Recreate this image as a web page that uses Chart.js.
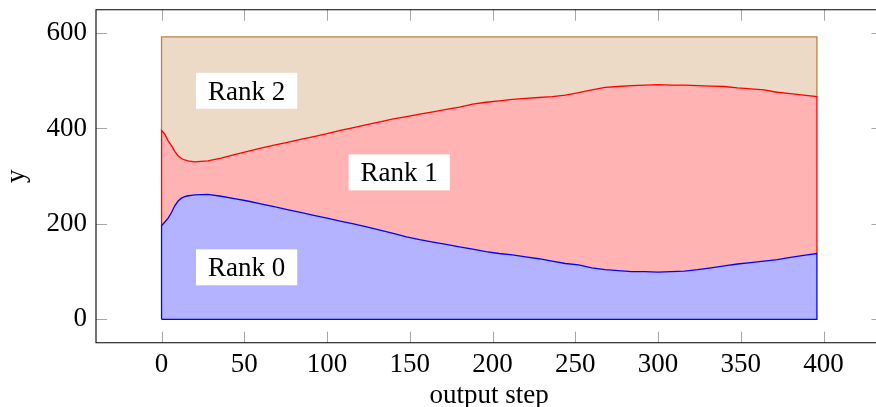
<!DOCTYPE html>
<html>
<head>
<meta charset="utf-8">
<script src="https://cdn.jsdelivr.net/npm/chart.js@4.4.1/dist/chart.umd.min.js"></script>
<style>
  html, body { margin: 0; padding: 0; background: #fff; }
  #wrap { width: 876px; height: 407px; }
</style>
</head>
<body>
<div id="wrap"><canvas id="c" width="876" height="407"></canvas></div>
<script>
// Output steps sampled along the run
const steps = [0,2,4,6,8,10,12,14,16,18,20,28,36,44,52,60,68,76,84,92,100,108,116,124,132,140,148,156,164,172,180,188,196,204,212,220,228,236,244,252,260,268,276,284,292,300,308,316,324,332,340,348,356,364,372,380,388,396];

// Work items held by each rank at every output step
const rank0 = [196,204,212,224,238,248,254,257,259,260,261,262,258,253,248,242,236,230,224,218,212,206,200,194,187,180,173,167,162,157,152,147,142,138,135,131,127,122,117,114,108,104,102,100,100,99,100,101,104,108,112,116,119,122,125,130,134,138];
const rank1 = [200,184,162,140,114,95,83,77,73,71,69,70,80,92,104,117,129,141,153,165,177,190,202,214,227,240,252,263,273,283,293,304,313,320,326,332,338,345,353,361,373,382,386,390,391,393,391,390,386,381,376,369,364,359,351,343,336,329];
const rank2 = [196,204,218,228,240,249,255,258,260,261,262,260,254,247,240,233,227,221,215,209,203,196,190,184,178,172,167,162,157,152,147,141,137,134,131,129,127,125,122,117,111,106,104,102,101,100,101,101,102,103,104,107,109,111,116,119,122,125];

const xTicks = [0,50,100,150,200,250,300,350,400];
const yTicks = [0,200,400,600];

const rankLabels = [
  { text: 'Rank 0', x: 51.4, y: 109 },
  { text: 'Rank 1', x: 143.6, y: 308 },
  { text: 'Rank 2', x: 51.4, y: 479 }
];

const FONT = '"Liberation Serif", "Times New Roman", serif';
const FSIZE = 27;

// stacked totals
const top0 = rank0.slice();
const top1 = rank0.map((v, i) => v + rank1[i]);
const top2 = top1.map((v, i) => v + rank2[i]);

const pts = arr => steps.map((s, i) => ({ x: s, y: arr[i] }));
const first = steps[0], last = steps[steps.length - 1], n = steps.length - 1;

// closed outlines of each stacked band (left edge, upper curve, right edge)
const outline0 = [{x: first, y: 0}, ...pts(top0), {x: last, y: 0}, {x: first, y: 0}];
const outline1 = [{x: first, y: top0[0]}, ...pts(top1), {x: last, y: top0[n]}];
const outline2 = [{x: first, y: top1[0]}, ...pts(top2), {x: last, y: top1[n]}];

const colors = {
  blue: '#0000ff', blueFill: '#b3b3ff',
  red: '#ff0000', redFill: '#ffb3b3',
  brown: '#bf8040', brownFill: '#ecd9c6'
};

const frame = {
  id: 'frame',
  afterDraw(chart) {
    const ctx = chart.ctx, a = chart.chartArea;
    const xs = chart.scales.x, ys = chart.scales.y;
    ctx.save();
    // inward tick marks on all four sides
    ctx.strokeStyle = '#a6a6a6';
    ctx.lineWidth = 1;
    const tl = 11;
    const rightEdge = xs.getPixelForValue(435.6);
    ctx.beginPath();
    xTicks.forEach(v => {
      const p = Math.round(xs.getPixelForValue(v)) + 0.5;
      ctx.moveTo(p, a.bottom); ctx.lineTo(p, a.bottom - tl);
      ctx.moveTo(p, a.top); ctx.lineTo(p, a.top + tl);
    });
    yTicks.forEach(v => {
      const p = Math.round(ys.getPixelForValue(v)) + 0.5;
      ctx.moveTo(a.left, p); ctx.lineTo(a.left + tl, p);
      ctx.moveTo(rightEdge, p); ctx.lineTo(rightEdge - tl, p);
    });
    ctx.stroke();
    // axis box
    ctx.strokeStyle = '#000';
    ctx.lineWidth = 1.1;
    ctx.beginPath();
    ctx.moveTo(rightEdge, a.top); ctx.lineTo(a.left, a.top);
    ctx.lineTo(a.left, a.bottom); ctx.lineTo(rightEdge, a.bottom);
    ctx.lineTo(rightEdge, a.top);
    ctx.stroke();

    // band labels on white boxes
    ctx.font = FSIZE + 'px ' + FONT;
    ctx.textAlign = 'center';
    ctx.textBaseline = 'alphabetic';
    rankLabels.forEach(l => {
      const cx = xs.getPixelForValue(l.x), cy = ys.getPixelForValue(l.y);
      const w = ctx.measureText(l.text).width;
      ctx.fillStyle = '#fff';
      ctx.fillRect(cx - w / 2 - 12, cy - 18, w + 24, 36);
      ctx.fillStyle = '#000';
      ctx.fillText(l.text, cx, cy + 8.8);
    });

    // axis titles
    ctx.fillText('output step', (a.left + rightEdge) / 2, 403);
    ctx.translate(24, (a.top + a.bottom) / 2);
    ctx.rotate(-Math.PI / 2);
    ctx.fillText('y', 0, 0);
    ctx.restore();
  }
};

// fills sit underneath, outlines on top (higher order is drawn first)
const fillSet = (data, fill, bg, order) => ({
  data, fill, order, backgroundColor: bg, borderColor: 'rgba(0,0,0,0)',
  borderWidth: 0, pointRadius: 0, tension: 0
});
const lineSet = (data, color, order) => ({
  data, order, fill: false, borderColor: color, borderWidth: 1.3, pointRadius: 0, tension: 0
});

new Chart(document.getElementById('c'), {
  type: 'line',
  data: {
    datasets: [
      fillSet(pts(top0), 'origin', colors.blueFill, 10),
      fillSet(pts(top1), '-1', colors.redFill, 11),
      fillSet(pts(top2), '-1', colors.brownFill, 12),
      lineSet(outline2, colors.brown, 3),
      lineSet(outline1, colors.red, 2),
      lineSet(outline0, colors.blue, 1)
    ]
  },
  options: {
    responsive: false,
    animation: false,
    devicePixelRatio: 1,
    layout: { padding: { top: 9.7, right: 0, bottom: 0, left: 0 } },
    plugins: { legend: { display: false }, tooltip: { enabled: false } },
    scales: {
      x: {
        type: 'linear',
        min: -39.6,
        max: 431.7,
        grid: { display: false },
        border: { display: false },
        afterBuildTicks: s => { s.ticks = xTicks.map(v => ({ value: v })); },
        afterFit: s => { s.height = 64.3; s.paddingLeft = 0; s.paddingRight = 0; },
        ticks: { color: '#000', padding: -2, maxRotation: 0, autoSkip: false,
                 font: { family: FONT, size: FSIZE } }
      },
      y: {
        type: 'linear',
        min: -49,
        max: 649,
        grid: { display: false },
        border: { display: false },
        afterBuildTicks: s => { s.ticks = yTicks.map(v => ({ value: v })); },
        afterFit: s => { s.width = 96; s.paddingTop = 0; s.paddingBottom = 0; },
        ticks: { color: '#000', padding: 1,
                 font: { family: FONT, size: FSIZE } }
      }
    }
  },
  plugins: [frame]
});
</script>
</body>
</html>
